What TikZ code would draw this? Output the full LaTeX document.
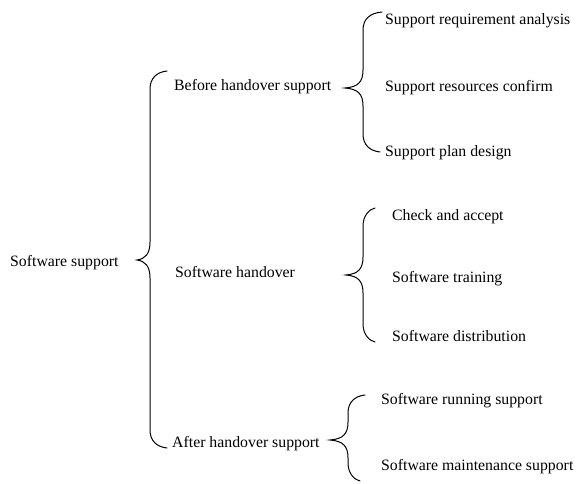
\documentclass[tikz,border=0pt]{standalone}
\usepackage{fontspec}
\setmainfont{Liberation Serif}
\newcommand{\mybrace}[7]{%
  \draw[bracestyle] (#4,#5) .. controls ({#3+7},{#5+1}) and (#3,{#5+7}) .. (#3,{#5+18})
    -- (#3,{#2-18}) .. controls (#3,{#2-6}) and ({#3-5},{#2-1}) .. (#1,#2)
    .. controls ({#3-5},{#2+1}) and (#3,{#2+6}) .. (#3,{#2+18})
    -- (#3,{#7-18}) .. controls (#3,{#7-7}) and ({#3+7},{#7-1}) .. (#6,#7);}
\begin{document}
\begin{tikzpicture}[x=1pt,y=-1pt,
  lbl/.style={anchor=base west,inner sep=0pt,font=\fontsize{15.8}{18}\selectfont},
  bracestyle/.style={line width=1pt,line cap=round}]
\useasboundingbox (0,0) rectangle (576,484);
\node[lbl] (root) at (10,266) {Software support};
\node[lbl] (b) at (174,91) {Before handover support};
\node[lbl] (h) at (175,277) {Software handover};
\node[lbl] (a) at (172,447) {After handover support};
\node[lbl] (b1) at (385,25) {Support requirement analysis};
\node[lbl] (b2) at (385,92) {Support resources confirm};
\node[lbl] (b3) at (385,157) {Support plan design};
\node[lbl] (h1) at (392,220) {Check and accept};
\node[lbl] (h2) at (392,282) {Software training};
\node[lbl] (h3) at (392,341) {Software distribution};
\node[lbl] (a1) at (381,404) {Software running support};
\node[lbl] (a2) at (381,470) {Software maintenance support};
\mybrace{137}{260}{150}{167}{71}{167}{448}
\mybrace{345}{88}{363}{382}{12}{380}{152}
\mybrace{346}{275}{363}{375}{208}{375}{342}
\mybrace{330}{440}{348}{365}{395}{360}{481}
\end{tikzpicture}
\end{document}
